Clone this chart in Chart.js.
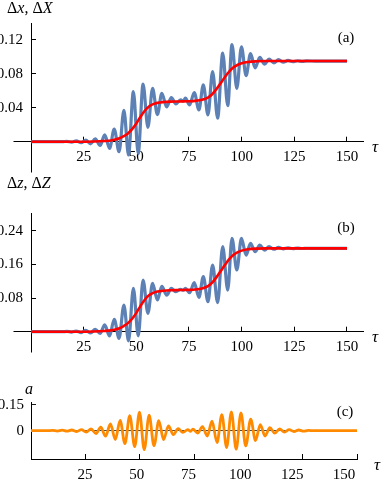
<!DOCTYPE html>
<html>
<head>
<meta charset="utf-8">
<script src="https://cdn.jsdelivr.net/npm/chart.js@4.4.1/dist/chart.umd.min.js"></script>
<style>
  html, body { margin: 0; padding: 0; background: #fff; }
  #wrap { position: relative; width: 382px; height: 483px; overflow: hidden; }
  canvas { position: absolute; left: 0; }
</style>
</head>
<body>
<div id="wrap">
  <canvas id="chartA" width="382" height="180" style="top:0"></canvas>
  <canvas id="chartB" width="382" height="195" style="top:165px"></canvas>
  <canvas id="chartC" width="382" height="123" style="top:360px"></canvas>
</div>
<script>
// tick labels
const tauTicks = [25, 50, 75, 100, 125, 150];
const yTicksA = [0.04, 0.08, 0.12];
const yTicksB = [0.08, 0.16, 0.24];
const yTicksC = [0, 0.15];

// smooth curves (red)
const redTau = [0, 20, 30, 35, 38, 40, 42, 44, 46, 48, 50, 52, 54, 56, 58, 60, 63, 66, 70, 75, 78, 80, 82, 84, 86, 88, 90, 92, 94, 96, 98, 100, 103, 107, 112, 150];
const redA = [0, 0, 0.0002, 0.0008, 0.0015, 0.0025, 0.004, 0.0065, 0.0098, 0.0148, 0.0215, 0.0295, 0.0365, 0.0415, 0.0443, 0.0458, 0.0468, 0.0473, 0.0475, 0.0477, 0.0481, 0.0488, 0.05, 0.052, 0.056, 0.062, 0.069, 0.076, 0.0825, 0.0875, 0.0905, 0.0925, 0.094, 0.0948, 0.0951, 0.0951];
const redB = [0, 0, 0.0004, 0.0017, 0.0031, 0.0052, 0.0083, 0.0135, 0.0204, 0.0308, 0.0448, 0.0614, 0.076, 0.0864, 0.0922, 0.0954, 0.0975, 0.0985, 0.099, 0.0994, 0.1002, 0.1016, 0.1041, 0.1083, 0.1166, 0.1291, 0.1437, 0.1583, 0.1718, 0.1822, 0.1885, 0.1927, 0.1958, 0.1975, 0.198, 0.198];

// oscillating curves (blue): peaks and troughs
const blueTau = [0, 15, 17.0, 19.3, 21.5, 23.8, 26.0, 28.3, 30.5, 32.8, 35.0, 37.3, 39.5, 41.8, 44.1, 46.3, 48.6, 50.9, 53.2, 55.5, 57.7, 60.0, 62.1, 64.4, 66.6, 68.8, 71.0, 72.3, 73.3, 75.3, 77.5, 79.7, 81.8, 84.0, 86.2, 88.6, 91.0, 93.4, 95.4, 97.7, 99.9, 102.1, 104.2, 106.4, 108.6, 110.9, 113.0, 115.3, 117.5, 119.8, 122.0, 124.3, 126.5, 128.8, 131.0, 135.0, 150];
const blueA = [0, 0, 0.0004, -0.0006, 0.0009, -0.0012, 0.0018, -0.0025, 0.0035, -0.0045, 0.008, -0.0078, 0.015, -0.0118, 0.037, -0.0157, 0.059, -0.014, 0.068, 0.017, 0.063, 0.032, 0.057, 0.041, 0.052, 0.0446, 0.0495, 0.0478, 0.0513, 0.0434, 0.058, 0.0375, 0.067, 0.0316, 0.0828, 0.0277, 0.1046, 0.0425, 0.1144, 0.063, 0.112, 0.078, 0.104, 0.087, 0.0995, 0.0915, 0.0975, 0.093, 0.0967, 0.0938, 0.0959, 0.0943, 0.0955, 0.0947, 0.0953, 0.0951, 0.0951];
const blueB = [0, 0, 0.0007, -0.001, 0.0014, -0.002, 0.003, -0.003, 0.0057, -0.004, 0.016, -0.0102, 0.0294, -0.0157, 0.0634, -0.022, 0.103, -0.01, 0.1228, 0.0437, 0.115, 0.0753, 0.108, 0.087, 0.103, 0.095, 0.1005, 0.0985, 0.103, 0.0927, 0.1165, 0.0817, 0.131, 0.0713, 0.1585, 0.069, 0.202, 0.099, 0.222, 0.1466, 0.222, 0.182, 0.21, 0.19, 0.206, 0.194, 0.202, 0.196, 0.2005, 0.197, 0.1993, 0.1973, 0.1988, 0.1977, 0.1983, 0.198, 0.198];

// pulse a(tau) (orange): peaks and troughs
const pulseTau = [0, 7.5, 9.85, 12.1, 14.3, 16.5, 18.75, 21.0, 23.2, 25.4, 27.65, 29.9, 32.1, 34.3, 36.55, 38.8, 41.0, 43.2, 45.45, 47.7, 49.9, 52.1, 54.35, 56.6, 58.8, 61.0, 63.25, 65.5, 67.7, 69.9, 72.15, 73.4, 74.5, 76.7, 78.9, 81.1, 83.3, 85.6, 87.8, 90.0, 92.2, 94.4, 96.6, 98.8, 101.1, 103.3, 105.5, 107.7, 109.9, 112.1, 114.4, 116.6, 118.8, 121.0, 123.2, 125.4, 127.6, 130, 150];
const pulseVal = [0, 0, 0.002, -0.002, 0.003, -0.003, 0.004, -0.005, 0.006, -0.008, 0.01, -0.017, 0.02, -0.032, 0.039, -0.052, 0.06, -0.075, 0.088, -0.093, 0.108, -0.11, 0.09, -0.088, 0.058, -0.052, 0.028, -0.023, 0.012, -0.01, 0.006, -0.004, 0.009, -0.014, 0.024, -0.031, 0.055, -0.069, 0.094, -0.098, 0.11, -0.108, 0.104, -0.089, 0.068, -0.058, 0.036, -0.031, 0.018, -0.014, 0.01, -0.008, 0.006, -0.005, 0.004, -0.003, 0.002, 0, 0];

const BLUE = '#5e81b5';
const RED = '#ff0000';
const ORANGE = '#ff8a00';
const SERIF = '"Liberation Serif", "Times New Roman", serif';

const pts = (xs, ys) => xs.map((x, i) => ({ x, y: ys[i] }));
const setTicks = list => s => { s.ticks = list.map(v => ({ value: v })); };

function align(v) { return Math.round(v - 0.5) + 0.5; }

function decor(opt) {
  return {
    id: 'decor',
    beforeDatasetsDraw(chart) {
      if (!opt.extend) return;
      const { ctx, chartArea: ca } = chart;
      const x0 = align(ca.left), y0 = align(ca.bottom);
      ctx.save();
      ctx.strokeStyle = '#000';
      ctx.lineWidth = 1;
      ctx.beginPath();
      ctx.moveTo(x0, y0);
      ctx.lineTo(x0, y0 + opt.extend.down);
      ctx.moveTo(x0, y0);
      ctx.lineTo(x0 - opt.extend.left, y0);
      ctx.stroke();
      ctx.restore();
    },
    afterDraw(chart) {
      const { ctx } = chart;
      ctx.save();
      ctx.fillStyle = '#000';
      ctx.textBaseline = 'middle';
      ctx.textAlign = 'left';
      let x = opt.title.x;
      opt.title.runs.forEach(([t, it]) => {
        ctx.font = (it ? 'italic ' : '') + '16px ' + SERIF;
        ctx.fillText(t, x, opt.title.y);
        x += ctx.measureText(t).width;
      });
      ctx.textAlign = 'center';
      ctx.font = '15px ' + SERIF;
      ctx.fillText(opt.tag[0], opt.tag[1], opt.tag[2]);
      ctx.font = 'italic 17px ' + SERIF;
      ctx.fillText('\u03c4', opt.tau[0], opt.tau[1]);
      ctx.restore();
    }
  };
}

const tickFont = { family: SERIF, size: 15 };

function stepChart(id, red, blue, yMax, yTicks, box, opt) {
  const H = box.height;
  return new Chart(document.getElementById(id), {
    type: 'line',
    data: {
      datasets: [
        { data: pts(redTau, red), borderColor: RED, borderWidth: 2.6, pointRadius: 0, cubicInterpolationMode: 'monotone', clip: false },
        { data: pts(blueTau, blue), borderColor: BLUE, borderWidth: 3.2, pointRadius: 0, cubicInterpolationMode: 'monotone', clip: false }
      ]
    },
    options: {
      responsive: false,
      animation: false,
      events: [],
      layout: { padding: { top: box.top, right: 19, left: 0, bottom: 0 } },
      plugins: { legend: { display: false }, tooltip: { enabled: false } },
      scales: {
        x: {
          type: 'linear', min: 0, max: 157.6, position: 'bottom',
          border: { color: '#000', width: 1 },
          grid: { drawOnChartArea: false, drawTicks: true, tickLength: -5, tickColor: '#000' },
          ticks: { font: tickFont, color: '#000', padding: 11, maxRotation: 0, autoSkip: false },
          afterBuildTicks: setTicks(tauTicks),
          afterFit: s => { s.height = H - box.bottom; }
        },
        y: {
          type: 'linear', min: 0, max: yMax, position: 'left',
          border: { color: '#000', width: 1 },
          grid: { drawOnChartArea: false, drawTicks: true, tickLength: -5, tickColor: '#000' },
          ticks: { font: tickFont, color: '#000', padding: 13, callback: v => v.toFixed(2) },
          afterBuildTicks: setTicks(yTicks),
          afterFit: s => { s.width = 31; }
        }
      }
    },
    plugins: [decor(opt)]
  });
}

stepChart('chartA', redA, blueA, 0.14, yTicksA, { height: 180, top: 23, bottom: 141.7 }, {
  extend: { down: 31, left: 18 },
  title: { x: 7, y: 9, runs: [['\u0394', false], ['x', true], [', ', false], ['\u0394', false], ['X', true]] },
  tag: ['(a)', 346, 38],
  tau: [375, 148]
});

stepChart('chartB', redB, blueB, 0.28, yTicksB, { height: 195, top: 48.9, bottom: 166.7 }, {
  extend: { down: 21, left: 18 },
  title: { x: 7, y: 19, runs: [['\u0394', false], ['z', true], [', ', false], ['\u0394', false], ['Z', true]] },
  tag: ['(b)', 346, 63],
  tau: [375, 173]
});

(function () {
  const H = 123, bottom = 99;
  new Chart(document.getElementById('chartC'), {
    type: 'line',
    data: {
      datasets: [
        { data: pts(pulseTau, pulseVal), borderColor: ORANGE, borderWidth: 2.8, pointRadius: 0, cubicInterpolationMode: 'monotone' }
      ]
    },
    options: {
      responsive: false,
      animation: false,
      events: [],
      layout: { padding: { top: 42.4, right: 25, left: 0, bottom: 0 } },
      plugins: { legend: { display: false }, tooltip: { enabled: false } },
      scales: {
        x: {
          type: 'linear', min: 0, max: 150, position: 'bottom',
          border: { color: '#000', width: 1 },
          grid: { drawOnChartArea: false, drawTicks: true, tickLength: -5, tickColor: '#000' },
          ticks: { display: false },
          afterBuildTicks: setTicks(tauTicks),
          afterFit: s => { s.height = 0; }
        },
        x2: {
          type: 'linear', min: -1.06, max: 156.3, position: 'bottom',
          border: { display: false },
          grid: { display: false, drawTicks: false },
          ticks: { font: tickFont, color: '#000', padding: 7, maxRotation: 0, autoSkip: false },
          afterBuildTicks: setTicks(tauTicks),
          afterFit: s => { s.height = H - bottom; }
        },
        y: {
          type: 'linear', min: -0.165, max: 0.165, position: 'left',
          border: { color: '#000', width: 1 },
          grid: {
            drawOnChartArea: true, drawTicks: true, tickLength: -5, tickColor: '#000', lineWidth: 0.9,
            color: c => (c.tick && c.tick.value === 0 ? '#333' : 'rgba(0,0,0,0)')
          },
          ticks: { font: tickFont, color: '#000', padding: 12, callback: v => (v === 0 ? '0' : v.toFixed(2)) },
          afterBuildTicks: setTicks(yTicksC),
          afterFit: s => { s.width = 31; }
        }
      }
    },
    plugins: [decor({
      title: { x: 25, y: 30, runs: [['a', true]] },
      tag: ['(c)', 345, 52],
      tau: [377, 106]
    })]
  });
})();
</script>
</body>
</html>
